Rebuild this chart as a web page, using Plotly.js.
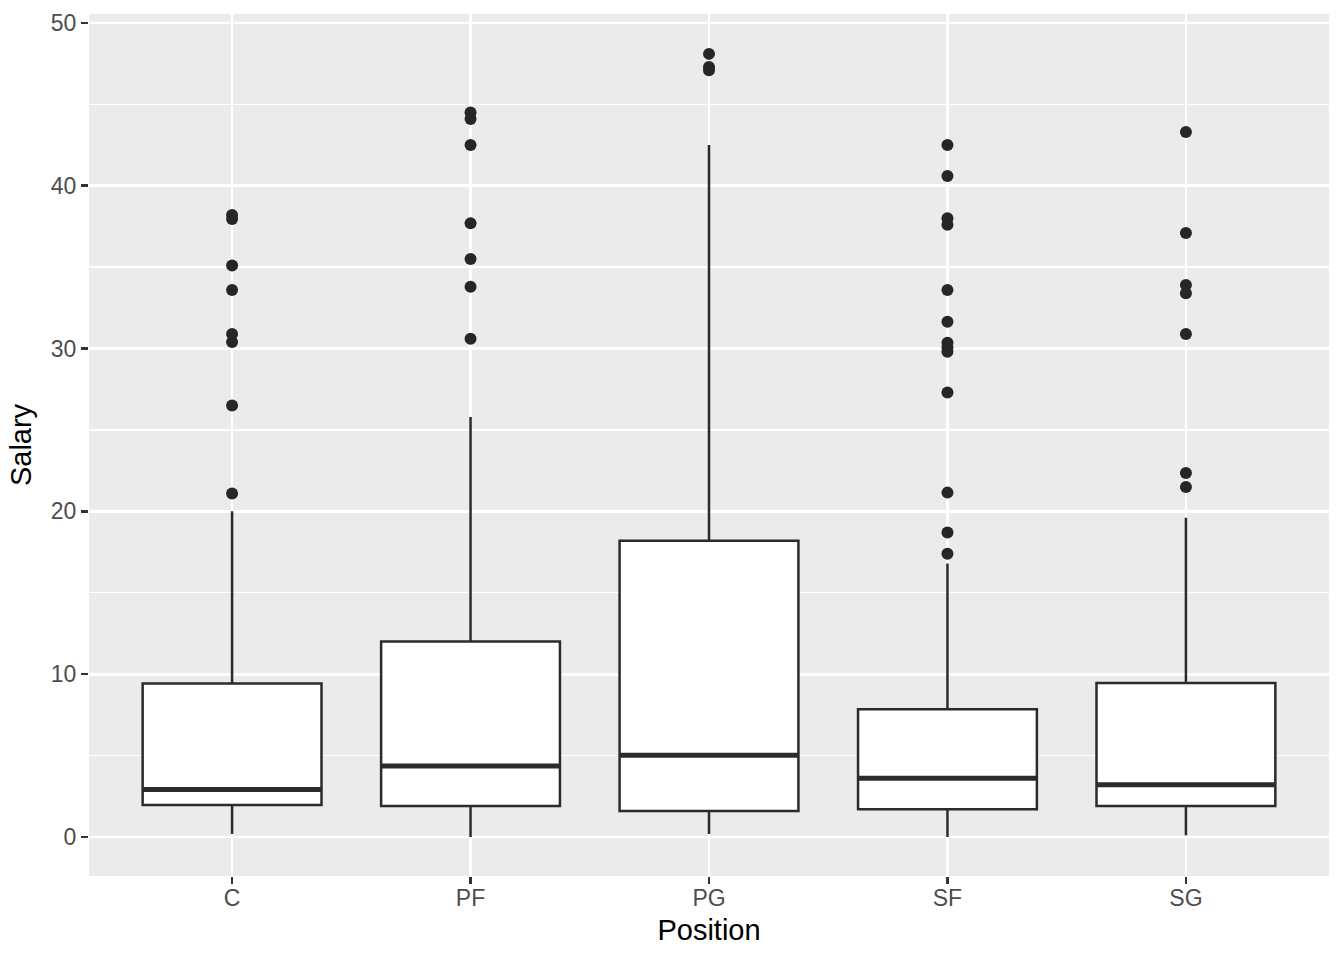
<!DOCTYPE html>
<html>
<head>
<meta charset="utf-8">
<script src="https://cdn.plot.ly/plotly-3.0.1.min.js"></script>
<style>html,body{margin:0;padding:0;background:#fff;}#chart{width:1344px;height:960px;}</style>
</head>
<body>
<div id="chart"></div>
<script>
// Data
var positions = ["C", "PF", "PG", "SF", "SG"];
var lowerWhisker = [0.18, 0.0, 0.18, 0.0, 0.1];
var q1Values = [1.96, 1.9, 1.6, 1.7, 1.9];
var medianValues = [2.92, 4.36, 5.01, 3.6, 3.2];
var q3Values = [9.42, 12.0, 18.2, 7.85, 9.45];
var upperWhisker = [20.0, 25.8, 42.5, 16.8, 19.6];
var outliersC = [38.2, 37.95, 35.1, 33.6, 30.9, 30.4, 26.5, 21.1];
var outliersPF = [44.5, 44.1, 42.5, 37.7, 35.5, 33.8, 30.6];
var outliersPG = [48.1, 47.3, 47.1];
var outliersSF = [42.5, 40.6, 38.0, 37.6, 33.6, 31.65, 30.35, 30.06, 29.8, 27.3, 21.15, 18.7, 17.4];
var outliersSG = [43.3, 37.1, 33.9, 33.4, 30.9, 22.35, 21.5];
var yTicks = [0, 10, 20, 30, 40, 50];

var outlierLists = [outliersC, outliersPF, outliersPG, outliersSF, outliersSG];
var idx = positions.map(function(_, i){ return i + 1; });
var boxWidth = 0.75;
var ink = "#2B2B2B";

var boxTrace = {
  type: "box",
  x: idx,
  q1: q1Values,
  median: medianValues,
  q3: q3Values,
  lowerfence: lowerWhisker,
  upperfence: upperWhisker,
  width: boxWidth,
  whiskerwidth: 0,
  boxpoints: false,
  fillcolor: "#FFFFFF",
  line: {color: ink, width: 2.5},
  hoverinfo: "skip",
  showlegend: false
};

var mx = [], my = [];
idx.forEach(function(xv, i){
  mx.push(xv - boxWidth/2, xv + boxWidth/2, null);
  my.push(medianValues[i], medianValues[i], null);
});
var medianTrace = {
  type: "scatter", mode: "lines", x: mx, y: my,
  line: {color: ink, width: 5}, hoverinfo: "skip", showlegend: false
};

var ox = [], oy = [];
outlierLists.forEach(function(list, i){
  list.forEach(function(v){ ox.push(idx[i]); oy.push(v); });
});
var outlierTrace = {
  type: "scatter", mode: "markers", x: ox, y: oy,
  marker: {color: "#262626", size: 12, line: {width: 0}},
  hoverinfo: "skip", showlegend: false
};

var font = "Liberation Sans, Arial, Helvetica, sans-serif";
var layout = {
  width: 1344, height: 960,
  margin: {l: 89, r: 15, t: 14, b: 84},
  paper_bgcolor: "#FFFFFF",
  plot_bgcolor: "#EBEBEB",
  showlegend: false,
  font: {family: font},
  xaxis: {
    range: [0.4, 5.6],
    tickmode: "array", tickvals: idx, ticktext: positions,
    showgrid: true, gridcolor: "#FFFFFF", gridwidth: 2.8,
    zeroline: false, showline: false,
    ticks: "outside", ticklen: 7, tickwidth: 2.6, tickcolor: "#333333",
    ticklabelstandoff: -6,
    tickfont: {family: font, size: 23, color: "#4D4D4D"},
    title: {text: "Position", font: {family: font, size: 29, color: "#000000"}, standoff: 10}
  },
  yaxis: {
    range: [-2.4, 50.55],
    tickmode: "array", tickvals: yTicks,
    showgrid: true, gridcolor: "#FFFFFF", gridwidth: 2.8,
    minor: {dtick: 5, tick0: 0, showgrid: true, gridcolor: "#FFFFFF", gridwidth: 1.4, ticks: ""},
    zeroline: false, showline: false,
    ticks: "outside", ticklen: 7, tickwidth: 2.6, tickcolor: "#333333",
    tickfont: {family: font, size: 23, color: "#4D4D4D"},
    title: {text: "Salary", font: {family: font, size: 29, color: "#000000"}, standoff: 10}
  }
};

Plotly.newPlot("chart", [boxTrace, medianTrace, outlierTrace], layout, {displayModeBar: false, staticPlot: true});
</script>
</body>
</html>
